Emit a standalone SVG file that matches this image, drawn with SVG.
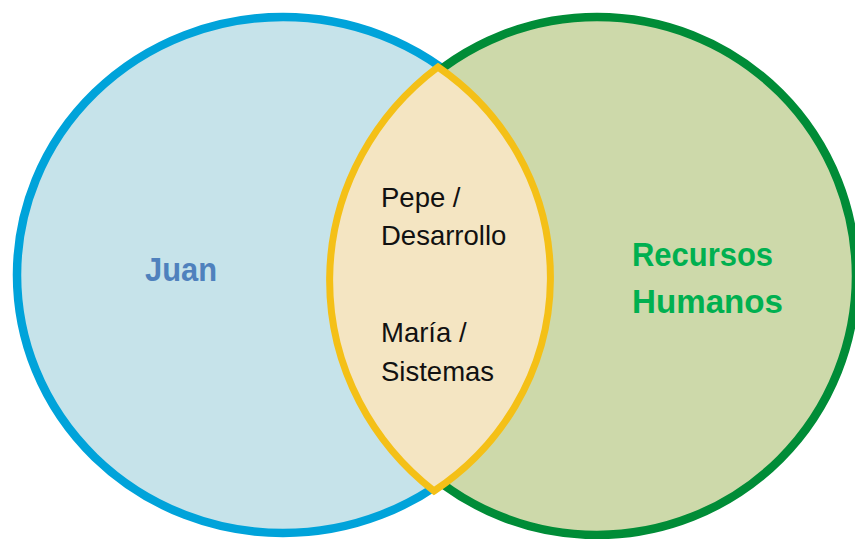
<svg xmlns="http://www.w3.org/2000/svg" width="855" height="539" viewBox="0 0 855 539">
  <style>
    .set-left { fill: #c6e3ea; stroke: #00a3da; stroke-width: 8.5; }
    .set-right { fill: #cdd9aa; stroke: #008c37; stroke-width: 8.5; }
    .lens { fill: #f4e5c2; stroke: #f4c017; stroke-width: 7; stroke-linejoin: miter; }
    .title { font-family: "Liberation Sans", Arial, sans-serif; font-weight: bold; font-size: 33px; }
    .item { font-family: "Liberation Sans", Arial, sans-serif; font-size: 27.5px; fill: #111111; }
  </style>
  <rect width="855" height="539" fill="#ffffff"/>
  <g id="node-juan">
    <ellipse class="set-left" cx="283" cy="275" rx="266" ry="258"/>
  </g>
  <g id="node-recursos-humanos">
    <ellipse class="set-right" cx="597" cy="276" rx="259" ry="259"/>
  </g>
  <g id="node-interseccion">
    <path class="lens" d="M438,67 A282,271 0 0,0 434,491 A266,258 0 0,0 438,67 Z"/>
    <text class="item" x="381" y="207">Pepe /</text>
    <text class="item" x="381" y="245">Desarrollo</text>
    <text class="item" x="381" y="342">María /</text>
    <text class="item" x="381" y="381">Sistemas</text>
  </g>
  <g id="labels">
    <text class="title" x="145" y="281" fill="#4f81bd" textLength="72" lengthAdjust="spacingAndGlyphs">Juan</text>
    <text class="title" x="632" y="266" fill="#00b050" textLength="141" lengthAdjust="spacingAndGlyphs">Recursos</text>
    <text class="title" x="632" y="313" fill="#00b050" textLength="151" lengthAdjust="spacingAndGlyphs">Humanos</text>
  </g>
  <g id="connectors"/>
</svg>
